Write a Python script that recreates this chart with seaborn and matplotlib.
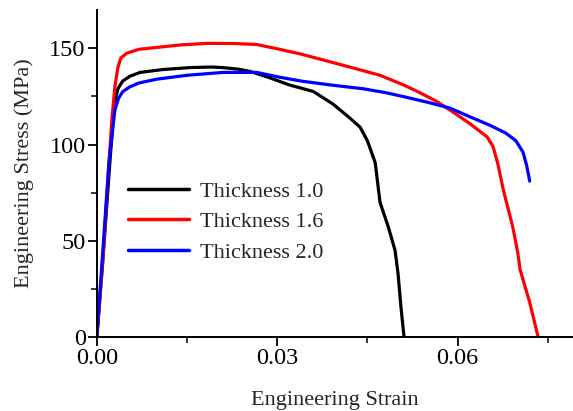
import numpy as np
import pandas as pd
import matplotlib
matplotlib.use("Agg")
import matplotlib.pyplot as plt
import seaborn as sns
from matplotlib.ticker import MultipleLocator

# Thickness 1.0
strain_10 = [0.0, 0.001, 0.0022, 0.0027, 0.0031, 0.0035, 0.0043, 0.0055, 0.0072, 0.0110, 0.0155, 0.0190, 0.0210,
             0.0235, 0.0255, 0.0285, 0.0320, 0.0360, 0.0393, 0.0420, 0.0438, 0.0450, 0.0463,
             0.0471, 0.0485, 0.0496, 0.0501, 0.0506, 0.0511]
stress_10 = [0.0, 40, 92, 113, 124, 129, 133, 135.5, 137.5, 139, 140, 140.3, 140,
             139.2, 138, 135, 131, 127.6, 121, 114, 109, 102, 90.6,
             70, 57, 45, 33, 15, 0.0]

# Thickness 1.6
strain_16 = [0.0, 0.001, 0.0020, 0.0025, 0.0030, 0.0035, 0.0040, 0.0050, 0.0070, 0.0100, 0.0140, 0.0183,
             0.0230, 0.0266, 0.0304, 0.0340, 0.0388, 0.0430, 0.0471, 0.0510, 0.0537, 0.0565,
             0.0592, 0.0620, 0.0649, 0.0659, 0.0667, 0.0676, 0.0692, 0.0700, 0.0704, 0.0720, 0.0734]
stress_16 = [0.0, 40, 90, 113, 130, 140, 145, 147.5, 149.5, 150.5, 151.8, 152.6,
             152.5, 152, 149.5, 147, 143, 139.5, 136, 131, 127, 122.5,
             117, 111, 104, 99, 90, 76.6, 57, 44, 35, 18, 0.0]

# Thickness 2.0
strain_20 = [0.0, 0.001, 0.0020, 0.0030, 0.0036, 0.0043, 0.0055, 0.0070, 0.0100, 0.0150, 0.0210, 0.0266,
             0.0304, 0.0340, 0.0388, 0.0443, 0.0480, 0.0509, 0.0550, 0.0587, 0.0620, 0.0654,
             0.0680, 0.0697, 0.0709, 0.0715, 0.0720]
stress_20 = [0.0, 45, 90, 118, 124, 127.5, 130, 132, 134, 136, 137.5, 137.5,
             135, 133, 131, 129, 127, 125, 122, 119, 114.5, 110,
             106, 102, 96, 89, 81]

labels = ["Thickness 1.0", "Thickness 1.6", "Thickness 2.0"]
colors = ["#000000", "#ff0000", "#0000ff"]

frames = []
for lab, xs, ys in zip(labels, [strain_10, strain_16, strain_20], [stress_10, stress_16, stress_20]):
    frames.append(pd.DataFrame({"strain": xs, "stress": ys, "series": lab}))
df = pd.concat(frames, ignore_index=True)

sns.set_style("ticks")
plt.rcParams["font.family"] = ["Liberation Serif", "DejaVu Serif"]

fig = plt.figure(figsize=(5.73, 4.11), dpi=100)
ax = fig.add_axes([0.169, 0.180, 0.831, 0.796])

sns.lineplot(data=df, x="strain", y="stress", hue="series", hue_order=labels,
             palette=colors, sort=False, estimator=None, units="series",
             linewidth=2.3, ax=ax)

ax.set_xlim(0, 0.0792)
ax.set_ylim(0, 170)
ax.xaxis.set_minor_locator(MultipleLocator(0.015))
ax.yaxis.set_minor_locator(MultipleLocator(25))
ax.set_xticks([0.0, 0.03, 0.06])
ax.set_xticklabels(["0.00", "0.03", "0.06"])
ax.set_yticks([0, 50, 100, 150])
ax.set_yticklabels(["0", "50", "100", "150"])

ax.tick_params(which="major", direction="out", length=6.5, width=1.3, labelsize=17.5, colors="black", pad=1.5)
ax.tick_params(which="minor", direction="out", length=4.5, width=1.3)
for s in ["left", "bottom"]:
    ax.spines[s].set_linewidth(1.4)
    ax.spines[s].set_color("black")
for s in ["top", "right"]:
    ax.spines[s].set_visible(False)

ax.set_xlabel("Engineering Strain", fontsize=16, labelpad=16)
ax.set_ylabel("Engineering Stress (MPa)", fontsize=16, labelpad=11)

leg = ax.legend(loc="upper left", bbox_to_anchor=(0.065, 0.477), frameon=False, fontsize=16,
                handlelength=2.75, handletextpad=0.5, labelspacing=0.45, borderaxespad=0,
                borderpad=0)
for h in leg.get_lines():
    h.set_linewidth(2.5)

fig.savefig("out.png", dpi=100)
